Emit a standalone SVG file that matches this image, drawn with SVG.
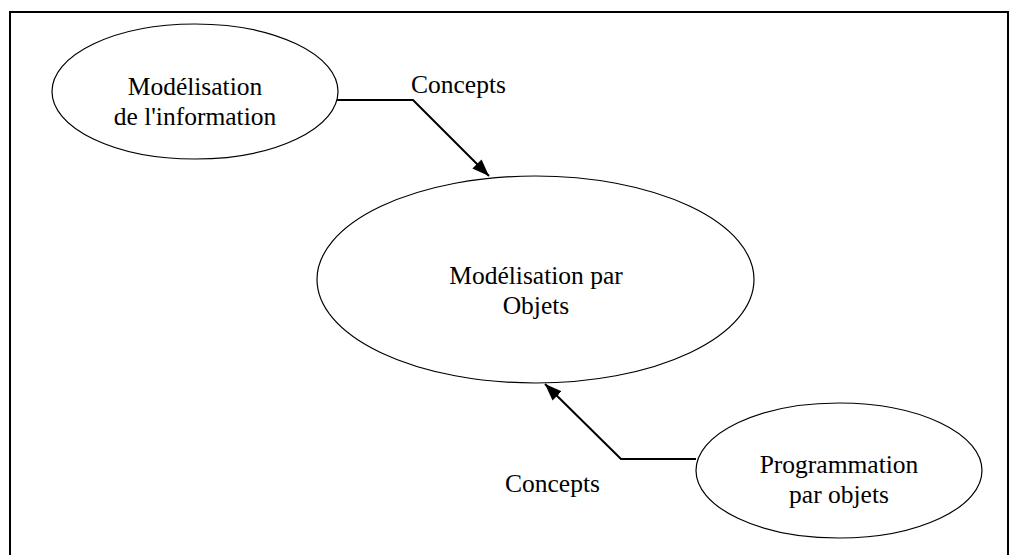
<svg xmlns="http://www.w3.org/2000/svg" width="1010" height="555" viewBox="0 0 1010 555">
  <style>
    .node ellipse { fill: #ffffff; stroke: #000000; stroke-width: 1.2; }
    .node text, .label { font-family: 'Liberation Serif', 'Times New Roman', 'DejaVu Serif', serif; font-size: 25.5px; fill: #000000; }
    .node text { text-anchor: middle; }
    .conn { fill: none; stroke: #000000; stroke-width: 2; }
  </style>
  <defs>
    <marker id="arrow" markerWidth="17" markerHeight="13" refX="17" refY="6.5" orient="auto" markerUnits="userSpaceOnUse" viewBox="0 0 17 13">
      <path d="M0,0 L17,6.5 L0,13 Z" fill="#000000"/>
    </marker>
  </defs>
  <rect x="10" y="12" width="998" height="560" fill="#ffffff" stroke="#000000" stroke-width="2"/>

  <g id="node-info" class="node">
    <ellipse cx="195" cy="91.5" rx="143" ry="67.5"/>
    <text x="195" y="95" font-family="Liberation Serif, serif">Modélisation</text>
    <text x="195" y="125" font-family="Liberation Serif, serif">de l'information</text>
  </g>

  <g id="node-objets" class="node">
    <ellipse cx="535.5" cy="279.5" rx="218.5" ry="103.5"/>
    <text x="536" y="284" font-family="Liberation Serif, serif">Modélisation par</text>
    <text x="536" y="314" font-family="Liberation Serif, serif">Objets</text>
  </g>

  <g id="node-prog" class="node">
    <ellipse cx="839" cy="470.5" rx="143" ry="67.5"/>
    <text x="839" y="473" font-family="Liberation Serif, serif">Programmation</text>
    <text x="839" y="503" font-family="Liberation Serif, serif">par objets</text>
  </g>

  <g id="connectors">
    <path class="conn" d="M337,100 L413,100 L489,176" marker-end="url(#arrow)"/>
    <path class="conn" d="M696,459 L621,459 L545,384" marker-end="url(#arrow)"/>
    <text class="label" x="411" y="93" font-family="Liberation Serif, serif">Concepts</text>
    <text class="label" x="505" y="492" font-family="Liberation Serif, serif">Concepts</text>
  </g>
</svg>
